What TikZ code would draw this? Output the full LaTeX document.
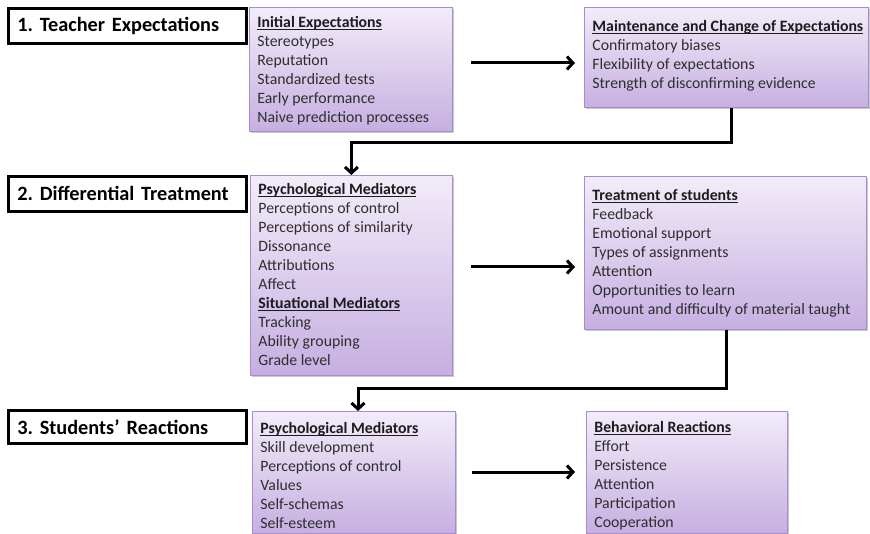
\documentclass[tikz,border=0pt]{standalone}
\usepackage{fontspec}
\setmainfont{Carlito}
\frenchspacing
\usetikzlibrary{arrows.meta,shadows,calc}
\definecolor{pborder}{HTML}{A98BCF}
\definecolor{ptop}{HTML}{F2ECF9}
\definecolor{pbot}{HTML}{C6AFE1}
\definecolor{itemtxt}{HTML}{2E2E2E}
\definecolor{hdtxt}{HTML}{1C1C1C}
\newlength\hdw
\newcommand{\hd}[1]{\settowidth{\hdw}{\textbf{#1}}\mbox{\color{hdtxt}\textbf{#1}\hspace{-\hdw}\rule[-2.2pt]{\hdw}{0.9pt}}}
\newcommand{\boxbody}[4]{\parbox[t][#2][t]{#1}{\raggedright\fontsize{15.8}{19}\selectfont\color{itemtxt}\rule{0pt}{#4}#3}}
\tikzset{
  lab/.style={draw=black, line width=2.6pt, fill=white, anchor=north west,
    minimum width=238pt, minimum height=35pt, text width=220pt, align=left,
    inner xsep=9pt, font=\fontsize{20.3}{23}\selectfont\bfseries,
    drop shadow={shadow xshift=1pt, shadow yshift=-1pt, opacity=0.3, fill=black}},
  pbox/.style={draw=pborder, line width=0.8pt, top color=ptop, bottom color=pbot,
    anchor=north west, inner xsep=8pt, inner ysep=0pt,
    drop shadow={shadow xshift=1.5pt, shadow yshift=-1.5pt, opacity=0.35, fill=black!60}},
  conn/.style={line width=3pt, line join=miter},
  arr/.style={conn, -{Straight Barb[length=6pt,width=13pt]}}
}
\begin{document}
\begin{tikzpicture}[x=1pt,y=-1pt]
\fill[white] (0,0) rectangle (870,534);
\useasboundingbox (0,0) rectangle (870,534);

% row labels
\node[lab] (l1) at (7,7) {1. Teacher Expectations};
\node[lab] (l2) at (7,175) {2. Differential Treatment};
\node[lab, minimum height=33pt] (l3) at (7,409) {3. Students’\hspace{0.35em}Reactions};

% purple boxes
\node[pbox] (init) at (249,7) {\boxbody{187pt}{124pt}{\hd{Initial Expectations}\\
Stereotypes\\ Reputation\\ Standardized tests\\ Early performance\\ Naive prediction processes}{20.5pt}};
\node[pbox] (maint) at (584,7) {\boxbody{268pt}{100pt}{\hd{Maintenance and Change of Expectations}\\
Confirmatory biases\\ Flexibility of expectations\\ Strength of disconfirming evidence}{24.5pt}};
\node[pbox] (psych2) at (250,175) {\boxbody{186pt}{200pt}{\hd{Psychological Mediators}\\
Perceptions of control\\ Perceptions of similarity\\ Dissonance\\ Attributions\\ Affect\\
\hd{Situational Mediators}\\ Tracking\\ Ability grouping\\ Grade level}{19.5pt}};
\node[pbox] (treat) at (584,176) {\boxbody{266pt}{153pt}{\hd{Treatment of students}\\
Feedback\\ Emotional support\\ Types of assignments\\ Attention\\ Opportunities to learn\\
Amount and difficulty of material taught}{24pt}};
\node[pbox] (psych3) at (252,411) {\boxbody{187pt}{122pt}{\hd{Psychological Mediators}\\
Skill development\\ Perceptions of control\\ Values\\ Self-schemas\\ Self-esteem}{22pt}};
\node[pbox] (behav) at (586,411) {\boxbody{185pt}{122pt}{\hd{Behavioral Reactions}\\
Effort\\ Persistence\\ Attention\\ Participation\\ Cooperation}{21pt}};

% horizontal arrows
\coordinate (a1) at (0,63);
\coordinate (a2) at (0,267);
\coordinate (a3) at (0,472);
\draw[arr] ($(init.east |- a1)+(18,0)$) -- ($(maint.west |- a1)+(-9,0)$);
\draw[arr] ($(psych2.east |- a2)+(18,0)$) -- ($(treat.west |- a2)+(-9,0)$);
\draw[arr] ($(psych3.east |- a3)+(16,0)$) -- ($(behav.west |- a3)+(-11,0)$);

% elbow connectors
\coordinate (e1) at (731,143);
\draw[arr] (maint.south -| e1) -- (e1) -| (psych2.north);
\coordinate (e2) at (726,389);
\coordinate (e2b) at (358,389);
\draw[arr] (treat.south -| e2) -- (e2) -- (e2b) -- (e2b |- psych3.north);
\end{tikzpicture}
\end{document}
